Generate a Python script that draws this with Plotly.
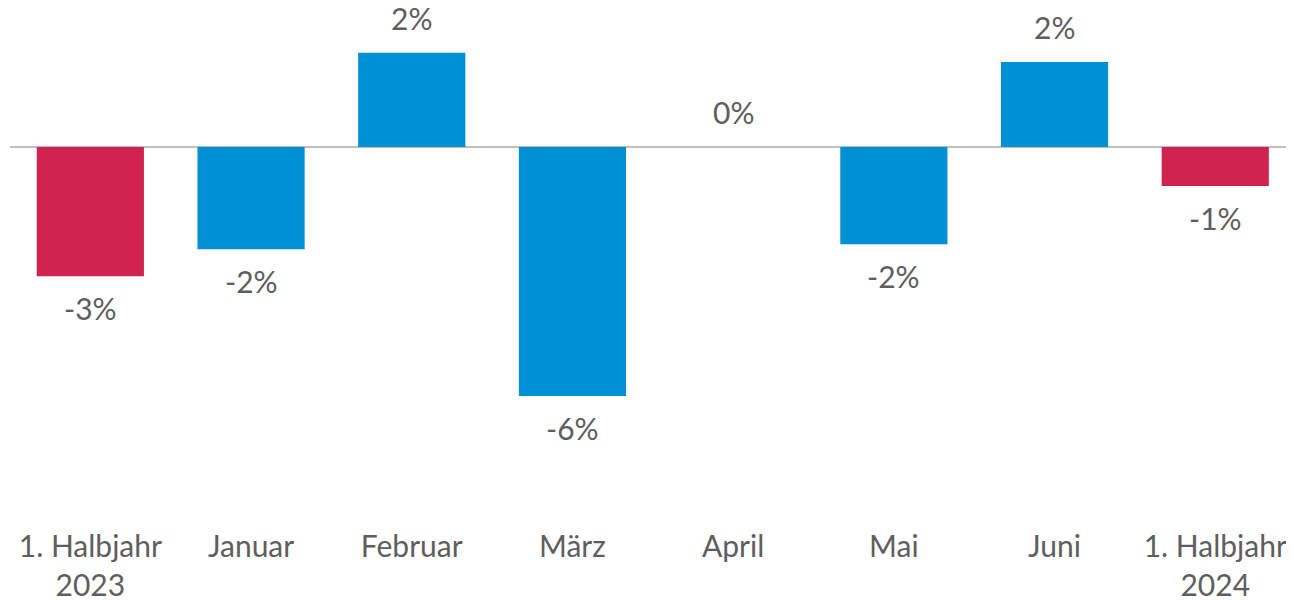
import plotly.graph_objects as go

categories = ["1. Halbjahr<br>2023", "Januar", "Februar", "März", "April", "Mai", "Juni", "1. Halbjahr<br>2024"]
values = [-3.11, -2.46, 2.27, -6.0, 0.0, -2.34, 2.05, -0.94]
colors = ["#D02350", "#0091D5", "#0091D5", "#0091D5", "#0091D5", "#0091D5", "#0091D5", "#D02350"]

FONT = "Source Sans Pro, Lato, sans-serif"
GRAY = "#5E5E5E"

x = list(range(len(categories)))
fig = go.Figure()
fig.add_trace(go.Bar(x=x, y=values, marker=dict(color=colors, line=dict(width=0)),
                     hoverinfo="skip"))

for xi, v in zip(x, values):
    fig.add_annotation(x=xi, y=v, text=f"{round(v):.0f}%", showarrow=False,
                       yanchor="middle", yshift=(35 if v >= 0 else -32),
                       font=dict(family=FONT, size=30, color=GRAY))

fig.update_layout(
    width=1286, height=592,
    margin=dict(l=2, r=0, t=0, b=74),
    paper_bgcolor="white", plot_bgcolor="white",
    bargap=0.333, showlegend=False,
    xaxis=dict(range=[-0.5, 7.49], tickmode="array", tickvals=x, ticktext=categories,
               showgrid=False, zeroline=False, showline=False, ticks="", automargin=False,
               tickfont=dict(family=FONT, size=30, color=GRAY)),
    yaxis=dict(range=[-9.13, 3.35], showgrid=False, showticklabels=False, automargin=False,
               zeroline=True, zerolinecolor="#BFBFBF", zerolinewidth=2, showline=False),
)
fig.write_html("out.html")
